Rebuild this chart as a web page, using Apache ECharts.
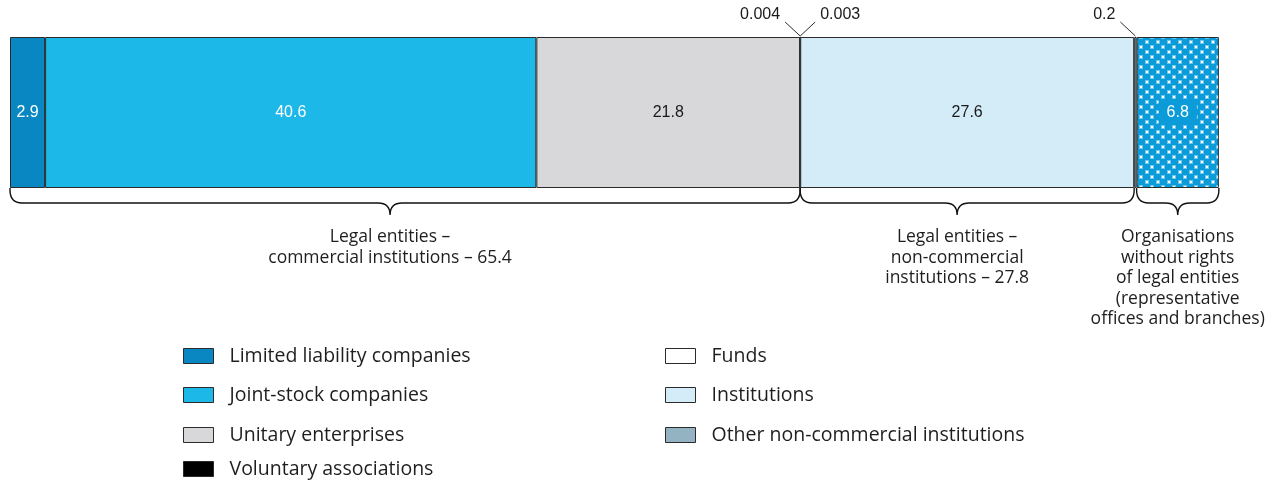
<!DOCTYPE html>
<html>
<head>
<meta charset="utf-8">
<script src="https://cdn.jsdelivr.net/npm/echarts@6/dist/echarts.min.js"></script>
<style>html,body{margin:0;padding:0;background:#fff}#c{width:1274px;height:484px}</style>
</head>
<body>
<div id="c"></div>
<script>
// ---- data ----
const categories = ['Structure'];
const segmentNames = [
  'Limited liability companies',
  'Joint-stock companies',
  'Unitary enterprises',
  'Voluntary associations',
  'Funds',
  'Institutions',
  'Other non-commercial institutions',
  'Organisations without rights of legal entities'
];
const segmentValues = [2.9, 40.6, 21.8, 0.004, 0.003, 27.6, 0.2, 6.8];
const groupLabels = [
  'Legal entities –\ncommercial institutions – 65.4',
  'Legal entities –\nnon-commercial\ninstitutions – 27.8',
  'Organisations\nwithout rights\nof legal entities\n(representative\noffices and branches)'
];
const groupFirstSegment = [0, 3, 7];
const groupLastSegment = [2, 5, 7];
const calloutSegments = [3, 4, 6];

// ---- styling ----
const FONT_NUM = '"Liberation Sans", Arial, sans-serif';
const FONT_TXT = '"Open Sans", sans-serif';
const STROKE = '#2b2b2b';
const braceTipFrac = [0.481, 0.47, 0.5];

const pat = document.createElement('canvas');
pat.width = 11; pat.height = 10;
(function(){
  const g = pat.getContext('2d');
  g.fillStyle = '#0a9bd8'; g.fillRect(0,0,11,10);
  function dot(x,y){
    g.fillStyle = '#6cc6ee'; g.fillRect(x-1,y-1,4,4);
    g.fillStyle = '#ffffff'; g.fillRect(x,y,2,2);
  }
  dot(2,1); dot(7,6);
})();

const colors = ['#0887c2', '#1bb8e8', '#d8d8da', '#000000', '#ffffff', '#d4ebf8', '#93b3c3', {image: pat, repeat: 'repeat'}];
const labelCfg = [
  {show:true, color:'#fff'},
  {show:true, color:'#fff'},
  {show:true, color:'#1a1a1a'},
  {show:false},
  {show:false},
  {show:true, color:'#1a1a1a'},
  {show:false},
  {show:true, color:'#fff', backgroundColor:'#0a9bd8', padding:[5,8,4,8]}
];

// cumulative starts
const starts = [];
segmentValues.reduce((acc, v, i) => { starts[i] = acc; return acc + v; }, 0);

const barSeries = segmentNames.map((name, i) => ({
  name: name,
  type: 'bar',
  stack: 'total',
  barWidth: '100%',
  data: [segmentValues[i]],
  itemStyle: {color: colors[i], borderColor: STROKE, borderWidth: 1},
  label: Object.assign({position:'inside', fontFamily: FONT_NUM, fontSize: 16, formatter: '{c}'}, labelCfg[i]),
  emphasis: {disabled: true},
  silent: true
}));

const braceData = groupLabels.map((t, i) => {
  const a = starts[groupFirstSegment[i]];
  const b = starts[groupLastSegment[i]] + segmentValues[groupLastSegment[i]];
  return [a, b, 0];
});

const braceSeries = {
  type: 'custom',
  name: 'braces',
  silent: true,
  data: braceData,
  encode: {x: [0, 1], y: 2},
  renderItem: function(params, api){
    const x0 = api.coord([api.value(0), 0])[0];
    const x1 = api.coord([api.value(1), 0])[0];
    const c = api.coord([0, 0]);
    const yb = c[1] + api.size([0, 1])[1] / 2;
    const cx = x0 + (x1 - x0) * braceTipFrac[params.dataIndex];
    const h = 15, r = 12, tip = 27;
    const d = 'M' + x0 + ' ' + yb +
      ' L' + x0 + ' ' + (yb + 2) +
      ' Q' + x0 + ' ' + (yb + h) + ' ' + (x0 + r) + ' ' + (yb + h) +
      ' L' + (cx - r) + ' ' + (yb + h) +
      ' Q' + cx + ' ' + (yb + h) + ' ' + cx + ' ' + (yb + tip) +
      ' Q' + cx + ' ' + (yb + h) + ' ' + (cx + r) + ' ' + (yb + h) +
      ' L' + (x1 - r) + ' ' + (yb + h) +
      ' Q' + x1 + ' ' + (yb + h) + ' ' + x1 + ' ' + (yb + 2) +
      ' L' + x1 + ' ' + yb;
    return {
      type: 'group',
      children: [
        {type: 'path', shape: {pathData: d}, style: {fill: 'none', stroke: '#111', lineWidth: 1.4}},
        {type: 'text', x: cx, y: yb + 39, style: {
          text: groupLabels[params.dataIndex], fill: '#1e1e1e',
          font: '17.5px ' + FONT_TXT, align: 'center', verticalAlign: 'top', lineHeight: 20.5
        }}
      ]
    };
  }
};

const calloutDir = [-1, 1, -1];
const calloutSeries = {
  type: 'custom',
  name: 'callouts',
  silent: true,
  data: calloutSegments.map(i => [starts[i] + segmentValues[i] / 2, 0]),
  encode: {x: 0, y: 1},
  renderItem: function(params, api){
    const p = api.coord([api.value(0), 0]);
    const yt = p[1] - api.size([0, 1])[1] / 2;
    const dir = calloutDir[params.dataIndex];
    const bx = p[0];
    const lx = bx + dir * 15;
    return {
      type: 'group',
      children: [
        {type: 'line', shape: {x1: bx, y1: yt - 1, x2: lx, y2: yt - 15}, style: {stroke: STROKE, lineWidth: 1}},
        {type: 'text', x: lx + dir * 5, y: yt - 22, style: {
          text: String(segmentValues[calloutSegments[params.dataIndex]]),
          fill: '#1a1a1a', font: '16px ' + FONT_NUM,
          align: dir < 0 ? 'right' : 'left', verticalAlign: 'middle'
        }}
      ]
    };
  }
};

const legendCol1 = [0, 1, 2, 3];
const legendCol2 = [4, 5, 6];
const legendRowsCol1 = [356, 395, 435, 469];
const legendRowsCol2 = [356, 395, 435];
function mkLegend(idx, left, cy){
  return {
    data: [segmentNames[idx]],
    left: left, top: cy - 11,
    padding: 0,
    itemWidth: 30, itemHeight: 15,
    icon: 'rect',
    selectedMode: false,
    itemStyle: {borderColor: STROKE, borderWidth: 1},
    textStyle: {fontFamily: FONT_TXT, fontSize: 19.5, color: '#1e1e1e', padding: [0,0,0,11], lineHeight: 22}
  };
}
const legends = [];
legendCol1.forEach((idx, k) => legends.push(mkLegend(idx, 183, legendRowsCol1[k])));
legendCol2.forEach((idx, k) => legends.push(mkLegend(idx, 665, legendRowsCol2[k])));

const chart = echarts.init(document.getElementById('c'), null, {renderer: 'canvas'});
chart.setOption({
  animation: false,
  backgroundColor: '#fff',
  grid: {left: 10, width: 1210, top: 37, height: 151},
  xAxis: {type: 'value', min: 0, max: 100, show: false},
  yAxis: {type: 'category', data: categories, show: false},
  legend: legends,
  series: barSeries.concat([braceSeries, calloutSeries])
});
</script>
</body>
</html>
